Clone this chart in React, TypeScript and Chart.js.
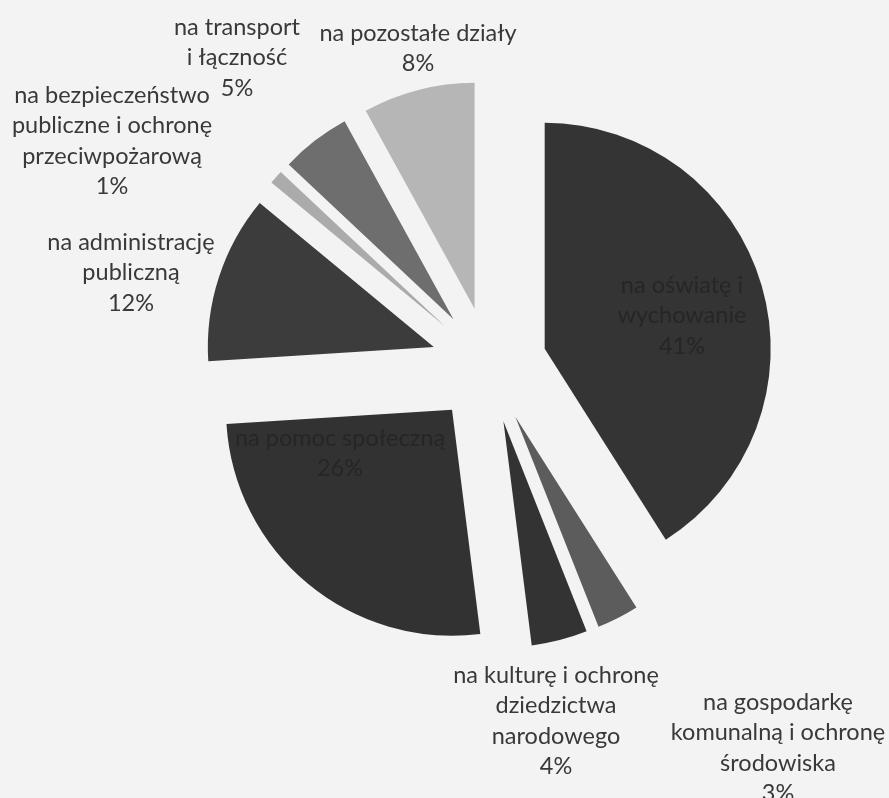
import React, { useEffect, useRef } from "react";
import { Chart, registerables } from "chart.js";

Chart.register(...registerables);

// ---- data ----
const CATEGORIES = [
  "na oświatę i\nwychowanie",
  "na gospodarkę\nkomunalną i ochronę\nśrodowiska",
  "na kulturę i ochronę\ndziedzictwa\nnarodowego",
  "na pomoc społeczną",
  "na administrację\npubliczną",
  "na bezpieczeństwo\npubliczne i ochronę\nprzeciwpożarową",
  "na transport\ni łączność",
  "na pozostałe działy",
];
const VALUES = [41, 3, 4, 26, 12, 1, 5, 8];

// ---- styles / layout (kept apart from data) ----
const SLICE_COLORS = [
  "#343434",
  "#5c5c5c",
  "#333333",
  "#323232",
  "#3c3c3c",
  "#ababab",
  "#6e6e6e",
  "#b6b6b6",
];
// label anchor: first-line centre, relative to the pie centre
const LABEL_ANCHORS: [number, number][] = [
  [193, -80],
  [289, 337],
  [67, 310],
  [-149, 73],
  [-358, -123],
  [-377, -270],
  [-252, -338],
  [-71, -332],
];
const LABEL_COLORS = [
  "#262626",
  "#393939",
  "#393939",
  "#262626",
  "#393939",
  "#393939",
  "#393939",
  "#393939",
];
const LINE_HEIGHT = 30.5;
const EXPLODE = 58;
const BG = "#f3f3f3";
const FONT = "23.5px Lato";

const explodePlugin = {
  id: "explode",
  beforeDatasetsDraw(chart: any) {
    const meta = chart.getDatasetMeta(0);
    const { left, right, top, bottom } = chart.chartArea;
    const cx = (left + right) / 2;
    const cy = (top + bottom) / 2;
    meta.data.forEach((arc: any) => {
      const mid = (arc.startAngle + arc.endAngle) / 2;
      arc.x = cx + Math.cos(mid) * EXPLODE;
      arc.y = cy + Math.sin(mid) * EXPLODE;
    });
  },
};

const labelPlugin = {
  id: "sliceLabels",
  afterDatasetsDraw(chart: any) {
    const ctx = chart.ctx;
    const { left, right, top, bottom } = chart.chartArea;
    const cx = (left + right) / 2;
    const cy = (top + bottom) / 2;
    ctx.save();
    ctx.font = FONT;
    ctx.textAlign = "center";
    ctx.textBaseline = "middle";
    CATEGORIES.forEach((cat, i) => {
      const lines = cat.split("\n").concat([VALUES[i] + "%"]);
      const [ax, ay] = LABEL_ANCHORS[i];
      ctx.fillStyle = LABEL_COLORS[i];
      lines.forEach((ln, j) => {
        ctx.fillText(ln, cx + ax, cy + ay + j * LINE_HEIGHT);
      });
    });
    ctx.restore();
  },
};

export default function App() {
  const ref = useRef<HTMLCanvasElement | null>(null);
  useEffect(() => {
    document.body.style.background = BG;
    const chart = new Chart(ref.current as HTMLCanvasElement, {
      type: "pie",
      data: {
        labels: CATEGORIES,
        datasets: [
          {
            data: VALUES,
            backgroundColor: SLICE_COLORS,
            borderWidth: 0,
          },
        ],
      },
      options: {
        animation: false,
        responsive: true,
        maintainAspectRatio: false,
        layout: { padding: { left: 263, right: 174, top: 139, bottom: 207 } },
        plugins: {
          legend: { display: false },
          tooltip: { enabled: false },
        },
      },
      plugins: [explodePlugin, labelPlugin],
    });
    return () => chart.destroy();
  }, []);
  return (
    <div
      style={{
        position: "absolute",
        left: 0,
        top: 0,
        width: 889,
        height: 798,
        background: BG,
      }}
    >
      <canvas ref={ref} />
    </div>
  );
}
